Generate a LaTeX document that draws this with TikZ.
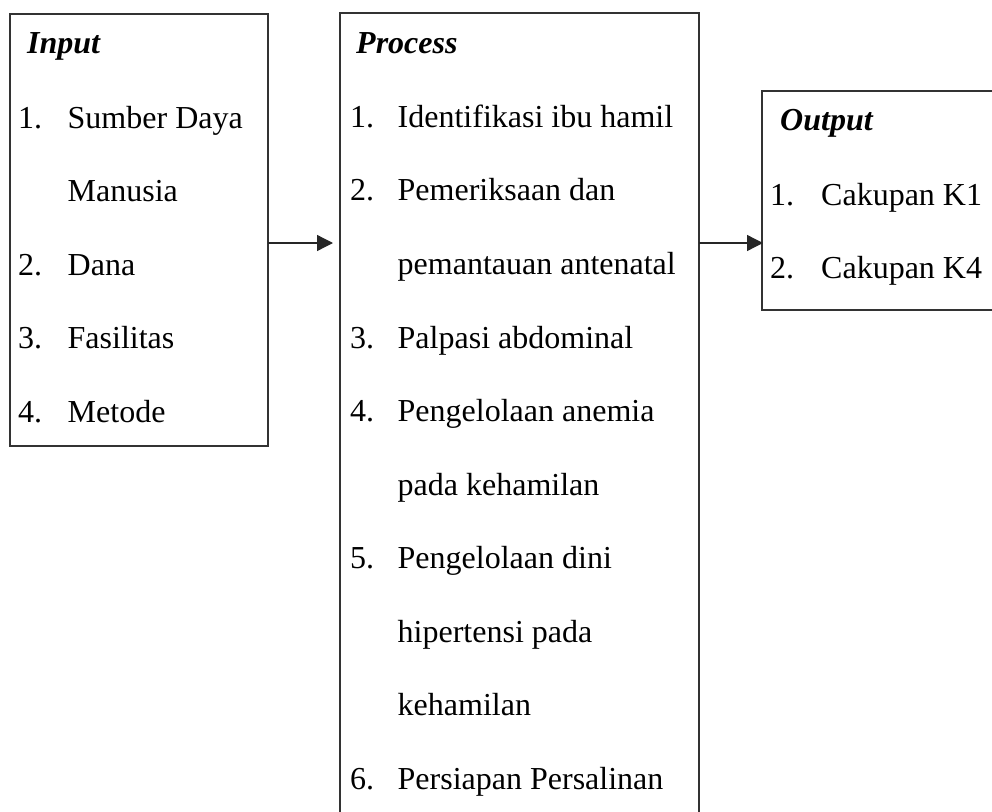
\documentclass[tikz,border=0pt]{standalone}
\usepackage{fontspec}
\setmainfont{Liberation Serif}[Ligatures=CommonOff]
\usetikzlibrary{arrows.meta}
\tikzset{
  box/.style={draw=black!80, line width=1.4pt, inner sep=0pt},
  item/.style={anchor=base west, inner sep=0pt, font=\fontsize{32}{38}\selectfont},
  head/.style={anchor=base west, inner sep=0pt, font=\fontsize{32}{38}\selectfont\bfseries\itshape},
  conn/.style={draw=black!85, line width=1.3pt, -{Triangle[length=16pt,width=16pt]}}
}
\begin{document}
\begin{tikzpicture}[x=1pt,y=-1pt]
\useasboundingbox (0,0) rectangle (992,811);
\clip (0,0) rectangle (992,811);
% boxes
\draw[box] (10,14) rectangle (268,446);
\draw[box] (340,13) rectangle (699,840);
\draw[box] (762,91) rectangle (1010,310);
\coordinate (inR) at (268,243);
\coordinate (prL) at (333,243);
\coordinate (prR) at (699,243);
\coordinate (ouL) at (763,243);
% input
\node[head] (inh) at (27,53) {Input};
\node[item] (in1n) at (18,128) {1.};
\node[item] (in1) at (67.5,128) {Sumber Daya};
\node[item] (in1b) at (67.5,201) {Manusia};
\node[item] (in2n) at (18,275) {2.};
\node[item] (in2) at (67.5,275) {Dana};
\node[item] (in3n) at (18,348) {3.};
\node[item] (in3) at (67.5,348) {Fasilitas};
\node[item] (in4n) at (18,422) {4.};
\node[item] (in4) at (67.5,422) {Metode};
% process
\node[head] (prh) at (356,53) {Process};
\node[item] (p1n) at (350,127) {1.};
\node[item] (p1) at (397.5,127) {Identifikasi ibu hamil};
\node[item] (p2n) at (350,200) {2.};
\node[item] (p2) at (397.5,200) {Pemeriksaan dan};
\node[item] (p2b) at (397.5,274) {pemantauan antenatal};
\node[item] (p3n) at (350,348) {3.};
\node[item] (p3) at (397.5,348) {Palpasi abdominal};
\node[item] (p4n) at (350,421) {4.};
\node[item] (p4) at (397.5,421) {Pengelolaan anemia};
\node[item] (p4b) at (397.5,495) {pada kehamilan};
\node[item] (p5n) at (350,568) {5.};
\node[item] (p5) at (397.5,568) {Pengelolaan dini};
\node[item] (p5b) at (397.5,642) {hipertensi pada};
\node[item] (p5c) at (397.5,715) {kehamilan};
\node[item] (p6n) at (350,789) {6.};
\node[item] (p6) at (397.5,789) {Persiapan Persalinan};
% output
\node[head] (ouh) at (780,130) {Output};
\node[item] (o1n) at (770,205) {1.};
\node[item] (o1) at (821,205) {Cakupan K1};
\node[item] (o2n) at (770,278) {2.};
\node[item] (o2) at (821,278) {Cakupan K4};
% connectors
\draw[conn] (inR) -- (prL);
\draw[conn] (prR) -- (ouL);
\end{tikzpicture}
\end{document}
